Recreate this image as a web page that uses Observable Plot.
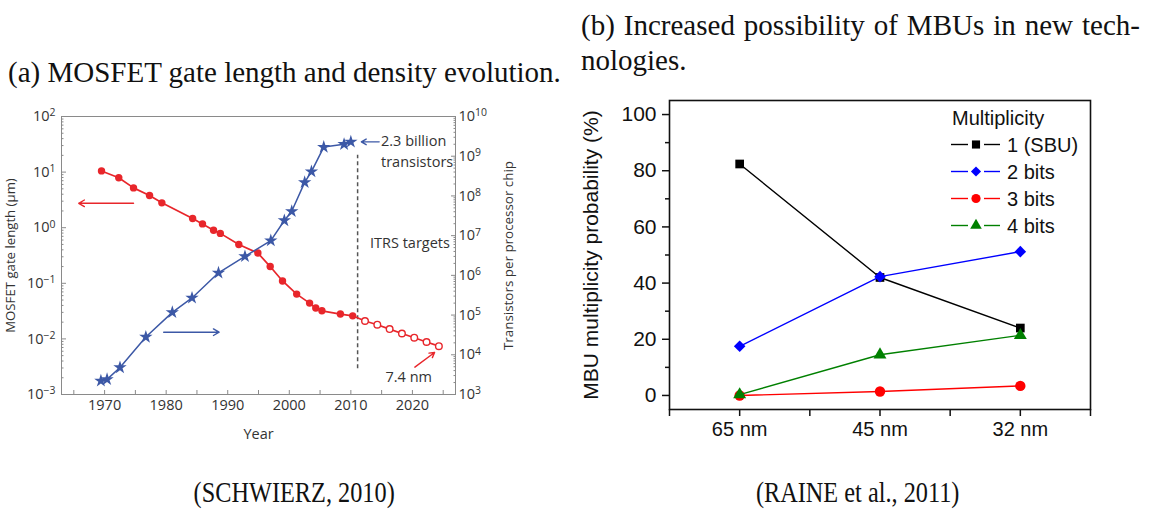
<!DOCTYPE html>
<html><head><meta charset="utf-8">
<script src="https://cdn.jsdelivr.net/npm/d3@7"></script>
<script src="https://cdn.jsdelivr.net/npm/@observablehq/plot@0.6"></script>
<style>
body{margin:0;background:#fff;}
#root{position:relative;width:1156px;height:511px;overflow:hidden;background:#fff;}
.abs{position:absolute;}
.serif{font-family:"Liberation Serif","Times New Roman",serif;color:#111;white-space:nowrap;font-size:29px;line-height:29px;}
</style></head><body>
<div id="root">
  <div class="abs serif" style="left:8px;top:58px;">(a) MOSFET gate length and density evolution.</div>
  <div class="abs serif" style="left:581px;top:11px;width:559px;text-align:justify;text-align-last:justify;">(b) Increased possibility of MBUs in new tech-</div>
  <div class="abs serif" style="left:581px;top:46px;">nologies.</div>
  <div class="abs serif" style="left:170px;top:477px;width:220px;text-align:center;font-size:30px;line-height:30px;"><span style="display:inline-block;transform:scaleX(0.81);">(SCHWIERZ, 2010)</span></div>
  <div class="abs serif" style="left:728px;top:477px;width:260px;text-align:center;font-size:30px;line-height:30px;"><span style="display:inline-block;transform:scaleX(0.81);">(RAINE et al., 2011)</span></div>
  <div class="abs" id="leftA" style="left:0px;top:100px;"></div>
  <div class="abs" id="leftB" style="left:0px;top:100px;"></div>
  <div class="abs" id="right" style="left:576px;top:90px;"></div>
  <div class="abs" id="legend" style="left:945px;top:100px;"></div>
</div>
<script>
// ---------- Panel (a) data ----------
const gateYears  = [1969.5, 1972.3, 1974.7, 1977.3, 1979.3, 1984.3, 1985.9, 1987.7, 1988.8, 1991.8, 1994.9, 1996.9, 1998.9, 2001.2, 2003.3, 2004.3, 2005.3, 2008.3, 2010.3];
const gateValues = [10.5, 7.9, 5.2, 3.8, 2.8, 1.46, 1.17, 0.9, 0.79, 0.5, 0.35, 0.2, 0.11, 0.064, 0.044, 0.036, 0.032, 0.028, 0.026];
const itrsYears  = [2012.3, 2014.3, 2016.3, 2018.3, 2020.3, 2022.3, 2024.3];
const itrsValues = [0.021, 0.018, 0.015, 0.0125, 0.0105, 0.0088, 0.0074];
const cpuYears   = [1969.4, 1970.4, 1972.5, 1976.7, 1981.0, 1984.2, 1988.5, 1992.8, 1997.0, 1999.2, 2000.4, 2002.5, 2003.6, 2005.6, 2008.9, 2010.0];
const cpuCounts  = [2200, 2400, 4800, 28000, 117000, 270000, 1.16e6, 3.0e6, 7.5e6, 2.4e7, 4.1e7, 2.2e8, 4.1e8, 1.7e9, 2.0e9, 2.3e9];
const yearTicks  = [1965, 1970, 1975, 1980, 1985, 1990, 1995, 2000, 2005, 2010, 2015, 2020, 2025];
const gateTicks  = [1e-3, 1e-2, 1e-1, 1e0, 1e1, 1e2];
const cpuTicks   = [1e3, 1e4, 1e5, 1e6, 1e7, 1e8, 1e9, 1e10];
const itrsBoundary = [{year: 2011.1, from: 0.0029, to: 20}];
const gateNotes  = [{year: 2019.6, value: 0.52, label: "ITRS targets"}, {year: 2019.4, value: 0.002, label: "7.4 nm"}];
const gateArrows = [{x1: 1974.7, y1: 2.75, x2: 1965.8, y2: 2.75}];
const nmArrows   = [{x1: 2020.4, y1: 0.0031, x2: 2023.6, y2: 0.0057}];
const cpuNotes   = [{year: 2014.9, value: 2.3e9, label: "2.3 billion\ntransistors"}];
const cpuArrows  = [{x1: 1979.6, y1: 37000, x2: 1988.6, y2: 37000}];
const billionArrows = [{x1: 2014.6, y1: 2.3e9, x2: 2011.7, y2: 2.3e9}];

// ---------- Panel (b) data ----------
const nodes = ["65 nm", "45 nm", "32 nm"];
const seriesNames = ["1 (SBU)", "2 bits", "3 bits", "4 bits"];
const sbu   = [82.4, 42.0, 24.0];
const bits2 = [17.5, 42.3, 51.2];
const bits3 = [0.0, 1.4, 3.4];
const bits4 = [0.3, 14.5, 21.4];
const seriesColors  = ["#000000", "#0000ff", "#ff0000", "#008000"];
const seriesSymbols = ["square", "diamond2", "circle", "triangle"];
const seriesR = [4.9, 5.2, 5.2, 4.8];
const probTicks = [0, 20, 40, 60, 80, 100];
const probMinor = [10, 30, 50, 70, 90];

const RED = "#e8262b", BLUE = "#3c58a6", GRAY = "#8a8a8a", TXT = "#333";

const gate = gateYears.map((year, i) => ({year, value: gateValues[i]}));
const itrs = itrsYears.map((year, i) => ({year, value: itrsValues[i]}));
const gateAll = gate.concat(itrs);
const cpu = cpuYears.map((year, i) => ({year, value: cpuCounts[i]}));

function minorLog(lo, hi) { const out = []; for (let k = lo; k < hi; k++) for (let m = 2; m <= 9; m++) out.push(m * Math.pow(10, k)); return out; }
const logLabel = d => "10^" + Math.round(Math.log10(d));

function sup(svg) {
  svg.querySelectorAll('g[aria-label="y-axis tick label"] text').forEach(t => {
    const m = /^10\^(-?\d+)$/.exec(t.textContent);
    if (!m) return;
    t.textContent = "10";
    const ts = document.createElementNS("http://www.w3.org/2000/svg", "tspan");
    ts.setAttribute("dy", "-0.45em");
    ts.setAttribute("font-size", "0.72em");
    ts.textContent = m[1].replace("-", "\u2212");
    t.appendChild(ts);
  });
}

const common = {width: 540, height: 350, marginLeft: 61, marginRight: 85, marginTop: 16, marginBottom: 56};
const leftStyle = {fontFamily: '"Open Sans", "DejaVu Sans", sans-serif', fontSize: "14.5px", color: TXT, background: "transparent", overflow: "visible"};

const plotA = Plot.plot({
  ...common, style: leftStyle,
  x: {domain: [1963, 2027]},
  y: {type: "log", domain: [1e-3, 1e2]},
  marks: [
    Plot.frame({stroke: GRAY}),
    Plot.axisX({ticks: yearTicks, tickSize: -4, tickPadding: 9, stroke: GRAY, fill: TXT,
      tickFormat: d => d % 10 === 0 ? String(d) : "", label: "Year", labelAnchor: "center", labelOffset: 44, labelArrow: "none", fontSize: 14.5}),
    Plot.axisY({anchor: "left", ticks: gateTicks, tickSize: -5, tickPadding: 11, stroke: GRAY, fill: TXT, tickFormat: logLabel, label: null, fontSize: 14.5}),
    Plot.axisY({anchor: "left", ticks: [], fill: TXT, label: "MOSFET gate length (µm)", labelAnchor: "center", labelOffset: 56, labelArrow: "none", fontSize: 13.2}),
    Plot.axisY({anchor: "left", ticks: minorLog(-3, 2), tickSize: -2.5, stroke: GRAY, tickFormat: () => "", label: null}),
    Plot.ruleX(itrsBoundary, {x: "year", y1: "from", y2: "to", stroke: "#555", strokeWidth: 1.5, strokeDasharray: "4,3"}),
    Plot.line(gateAll, {x: "year", y: "value", stroke: RED, strokeWidth: 1.7}),
    Plot.dot(gate, {x: "year", y: "value", r: 3.7, fill: RED}),
    Plot.dot(itrs, {x: "year", y: "value", r: 3.3, fill: "white", stroke: RED, strokeWidth: 1.4}),
    Plot.arrow(gateArrows, {x1: "x1", y1: "y1", x2: "x2", y2: "y2", stroke: RED, strokeWidth: 1.4, headLength: 7}),
    Plot.arrow(nmArrows, {x1: "x1", y1: "y1", x2: "x2", y2: "y2", stroke: RED, strokeWidth: 1.4, headLength: 6}),
    Plot.text(gateNotes, {x: "year", y: "value", text: "label", fill: TXT, fontSize: 14.5})
  ]
});
sup(plotA);
document.getElementById("leftA").appendChild(plotA);

const plotB = Plot.plot({
  ...common, style: leftStyle,
  x: {domain: [1963, 2027], axis: null},
  y: {type: "log", domain: [1e3, 1e10]},
  marks: [
    Plot.axisY({anchor: "right", ticks: cpuTicks, tickSize: -5, tickPadding: 8, stroke: GRAY, fill: TXT, tickFormat: logLabel, label: null, fontSize: 14.5}),
    Plot.axisY({anchor: "right", ticks: [], fill: TXT, label: "Transistors per processor chip", labelAnchor: "center", labelOffset: 57, labelArrow: "none", fontSize: 13.4}),
    Plot.axisY({anchor: "right", ticks: minorLog(3, 10), tickSize: -2.5, stroke: GRAY, tickFormat: () => "", label: null}),
    Plot.line(cpu, {x: "year", y: "value", stroke: BLUE, strokeWidth: 1.5}),
    Plot.dot(cpu, {x: "year", y: "value", symbol: "star", r: 4.2, fill: BLUE}),
    Plot.arrow(cpuArrows, {x1: "x1", y1: "y1", x2: "x2", y2: "y2", stroke: BLUE, strokeWidth: 1.4, headLength: 7}),
    Plot.arrow(billionArrows, {x1: "x1", y1: "y1", x2: "x2", y2: "y2", stroke: BLUE, strokeWidth: 1.4, headLength: 6}),
    Plot.text(cpuNotes, {x: "year", y: "value", text: "label", textAnchor: "start", lineAnchor: "top", dy: -10, lineHeight: 1.4, fill: TXT, fontSize: 14.5})
  ]
});
sup(plotB);
document.getElementById("leftB").appendChild(plotB);

// ---------- Panel (b) ----------
const seriesValues = [sbu, bits2, bits3, bits4];
const mbu = [];
seriesNames.forEach((s, si) => nodes.forEach((n, ni) => mbu.push({series: s, node: n, idx: ni, value: seriesValues[si][ni]})));

const seriesMarks = [];
seriesNames.forEach((s, si) => {
  const rows = mbu.filter(d => d.series === s);
  seriesMarks.push(Plot.line(rows, {x: "idx", y: "value", stroke: seriesColors[si], strokeWidth: 1.4}));
  seriesMarks.push(Plot.dot(rows, {x: "idx", y: "value", symbol: seriesSymbols[si], r: seriesR[si], fill: seriesColors[si], stroke: "none"}));
});

const plotR = Plot.plot({
  width: 580, height: 370, marginLeft: 93, marginRight: 66, marginTop: 10, marginBottom: 51,
  style: {fontFamily: '"Liberation Sans", Arial, sans-serif', fontSize: "20px", color: "#111", background: "transparent", overflow: "visible"},
  x: {domain: [-0.5, 2.5]},
  y: {domain: [-5, 105]},
  marks: [
    Plot.axisY({ticks: probTicks, tickSize: 7, tickPadding: 6, strokeWidth: 1.5,
      label: "MBU multiplicity probability (%)", labelAnchor: "center", labelOffset: 86, labelArrow: "none", fontSize: 21}),
    Plot.axisY({ticks: probMinor, tickSize: 4, strokeWidth: 1.5, tickFormat: () => "", label: null}),
    Plot.axisX({ticks: [0, 1, 2], tickSize: 7, tickPadding: 5, strokeWidth: 1.5, tickFormat: i => nodes[i], label: null}),
    Plot.axisX({ticks: [-0.5, 0.5, 1.5, 2.5], tickSize: 7, strokeWidth: 1.5, tickFormat: () => "", label: null}),
    ...seriesMarks,
    Plot.frame({stroke: "#111", strokeWidth: 1.6})
  ]
});
document.getElementById("right").appendChild(plotR);

// legend
const symMap = {square: d3.symbolSquare, diamond2: d3.symbolDiamond2, circle: d3.symbolCircle, triangle: d3.symbolTriangle};
const symSize = [66, 66, 66, 58];
const leg = d3.create("svg").attr("width", 145).attr("height", 140)
  .style("font-family", '"Liberation Sans", Arial, sans-serif').style("font-size", "20px").style("overflow", "visible");
leg.append("text").attr("x", 7).attr("y", 18).attr("dy", "0.35em").attr("fill", "#111").text("Multiplicity");
seriesNames.forEach((name, i) => {
  const g = leg.append("g").attr("transform", `translate(0,${44.5 + i * 27})`);
  g.append("line").attr("x1", 6).attr("x2", 23).attr("stroke", seriesColors[i]).attr("stroke-width", 1.4);
  g.append("line").attr("x1", 39).attr("x2", 55).attr("stroke", seriesColors[i]).attr("stroke-width", 1.4);
  g.append("path").attr("d", d3.symbol(symMap[seriesSymbols[i]], symSize[i])()).attr("transform", "translate(31,0)").attr("fill", seriesColors[i]);
  g.append("text").attr("x", 62).attr("dy", "0.35em").attr("fill", "#111").text(name);
});
document.getElementById("legend").appendChild(leg.node());
</script>
</body></html>
